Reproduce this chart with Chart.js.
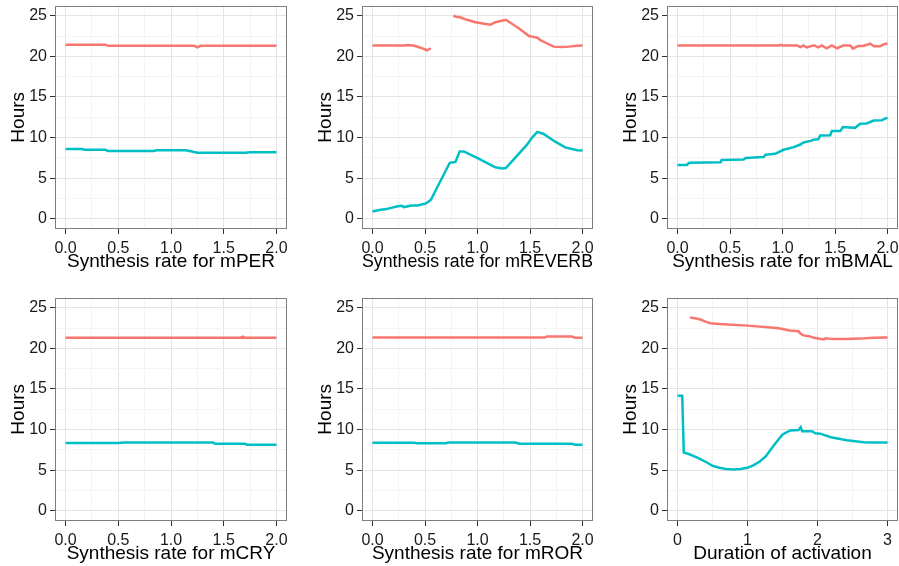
<!DOCTYPE html>
<html>
<head>
<meta charset="utf-8">
<script src="https://cdn.jsdelivr.net/npm/chart.js@4.4.1/dist/chart.umd.min.js"></script>
<style>
  html, body { margin: 0; padding: 0; background: #fff; overflow: hidden; }
  body { width: 899px; height: 566px; position: relative; }
  canvas { position: absolute; }
</style>
</head>
<body>
<canvas id="c1"></canvas>
<canvas id="c2"></canvas>
<canvas id="c3"></canvas>
<canvas id="c4"></canvas>
<canvas id="c5"></canvas>
<canvas id="c6"></canvas>
<script>
// ---- data ----
var yMajor = [0, 5, 10, 15, 20, 25];
var yMinor = [2.5, 7.5, 12.5, 17.5, 22.5];
var rateMajor = [0, 0.5, 1, 1.5, 2];
var rateMinor = [0.25, 0.75, 1.25, 1.75];
var durMajor = [0, 1, 2, 3];
var durMinor = [0.5, 1.5, 2.5];

// mPER
var perRedX = [0, 0.38, 0.40, 1.22, 1.25, 1.28, 2.0];
var perRedY = [21.43, 21.43, 21.3, 21.3, 21.1, 21.3, 21.3];
var perTealX = [0, 0.16, 0.18, 0.38, 0.40, 0.84, 0.86, 1.14, 1.2, 1.25, 1.7, 1.75, 2.0];
var perTealY = [8.6, 8.6, 8.5, 8.5, 8.36, 8.36, 8.44, 8.44, 8.3, 8.15, 8.15, 8.2, 8.2];

// mREVERB
var revRedX = [0, 0.30, 0.33, 0.40, 0.45, 0.52, 0.556, 0.66, 0.77, 0.80, 0.825, 0.90, 0.98, 1.05, 1.125, 1.17, 1.27, 1.39, 1.49, 1.53, 1.57, 1.60, 1.63, 1.725, 1.80, 1.87, 1.95, 2.0];
var revRedY = [21.35, 21.35, 21.4, 21.3, 21.1, 20.75, 21.0, null, 25.0, 24.85, 24.85, 24.5, 24.2, 24.05, 23.9, 24.2, 24.5, 23.5, 22.5, 22.4, 22.3, 22.0, 21.8, 21.2, 21.15, 21.2, 21.3, 21.35];
var revTealX = [0, 0.05, 0.13, 0.24, 0.28, 0.30, 0.37, 0.43, 0.51, 0.556, 0.736, 0.79, 0.83, 0.87, 1.01, 1.17, 1.235, 1.27, 1.47, 1.52, 1.57, 1.63, 1.74, 1.835, 1.95, 2.0];
var revTealY = [0.9, 1.05, 1.2, 1.55, 1.6, 1.45, 1.65, 1.65, 1.9, 2.35, 6.9, 7.0, 8.3, 8.3, 7.4, 6.35, 6.2, 6.25, 9.1, 10.0, 10.7, 10.45, 9.5, 8.8, 8.45, 8.4];

// mBMAL
var bmalRedX = [0, 0.97, 0.98, 1.0, 1.14, 1.17, 1.2, 1.23, 1.3, 1.34, 1.375, 1.42, 1.47, 1.52, 1.58, 1.645, 1.67, 1.72, 1.77, 1.835, 1.87, 1.93, 1.98, 2.0];
var bmalRedY = [21.35, 21.35, 21.43, 21.35, 21.35, 21.15, 21.35, 21.1, 21.35, 21.1, 21.35, 21.0, 21.35, 21.0, 21.35, 21.35, 20.95, 21.27, 21.27, 21.56, 21.25, 21.25, 21.56, 21.56];
var bmalTealX = [0, 0.09, 0.11, 0.41, 0.42, 0.63, 0.65, 0.82, 0.84, 0.93, 1.01, 1.1, 1.17, 1.2, 1.23, 1.27, 1.295, 1.34, 1.36, 1.455, 1.47, 1.55, 1.575, 1.69, 1.74, 1.8, 1.87, 1.945, 2.0];
var bmalTealY = [6.64, 6.64, 6.9, 6.97, 7.25, 7.3, 7.5, 7.6, 7.9, 8.0, 8.5, 8.8, 9.15, 9.4, 9.5, 9.6, 9.75, 9.8, 10.25, 10.3, 10.8, 10.8, 11.3, 11.2, 11.7, 11.75, 12.1, 12.15, 12.45];

// mCRY
var cryRedX = [0, 1.66, 1.68, 1.70, 2.0];
var cryRedY = [21.32, 21.32, 21.45, 21.32, 21.32];
var cryTealX = [0, 0.5, 0.55, 1.4, 1.42, 1.7, 1.72, 2.0];
var cryTealY = [8.35, 8.35, 8.4, 8.4, 8.25, 8.25, 8.15, 8.15];

// mROR
var rorRedX = [0, 1.64, 1.66, 1.9, 1.93, 2.0];
var rorRedY = [21.33, 21.33, 21.45, 21.45, 21.3, 21.3];
var rorTealX = [0, 0.4, 0.42, 0.7, 0.72, 1.36, 1.4, 1.9, 1.93, 2.0];
var rorTealY = [8.38, 8.38, 8.33, 8.33, 8.4, 8.4, 8.25, 8.25, 8.15, 8.15];

// duration of activation
var durRedX = [0.18, 0.25, 0.33, 0.4, 0.47, 0.6, 1.0, 1.42, 1.52, 1.6, 1.73, 1.76, 1.8, 1.88, 1.95, 2.09, 2.12, 2.16, 2.23, 2.4, 2.61, 2.8, 3.0];
var durRedY = [23.8, 23.7, 23.55, 23.3, 23.1, 23.0, 22.8, 22.5, 22.35, 22.2, 22.1, 21.8, 21.6, 21.5, 21.3, 21.1, 21.25, 21.2, 21.15, 21.15, 21.2, 21.3, 21.35];
var durTealX = [0, 0.067, 0.09, 0.16, 0.3, 0.42, 0.5, 0.6, 0.69, 0.8, 0.9, 1.0, 1.09, 1.18, 1.26, 1.38, 1.5, 1.61, 1.73, 1.76, 1.78, 1.92, 1.97, 2.04, 2.19, 2.42, 2.66, 2.8, 3.0];
var durTealY = [14.16, 14.16, 7.18, 7.0, 6.5, 5.95, 5.55, 5.3, 5.14, 5.1, 5.15, 5.3, 5.63, 6.1, 6.7, 8.1, 9.4, 9.9, 9.95, 10.3, 9.8, 9.8, 9.55, 9.5, 9.06, 8.7, 8.45, 8.4, 8.4];

var RED = '#F8766D';
var TEAL = '#00BFC4';
var FONT = '"Liberation Sans", Arial, Helvetica, sans-serif';

function pts(xs, ys) {
    return xs.map(function (x, i) { return { x: x, y: ys[i] }; });
}

function isMajor(v, majors) {
    return majors.some(function (m) { return Math.abs(m - v) < 1e-9; });
}

// panel border drawn on top, like ggplot's theme_bw
var borderPlugin = {
    id: 'panelBorder',
    afterDraw: function (chart) {
        var a = chart.chartArea, ctx = chart.ctx;
        ctx.save();
        ctx.strokeStyle = '#7f7f7f';
        ctx.lineWidth = 1;
        ctx.strokeRect(Math.round(a.left) + 0.5, Math.round(a.top) + 0.5, Math.round(a.right - a.left) - 1, Math.round(a.bottom - a.top) - 1);
        ctx.restore();
    }
};

function gridFor(majors) {
    return {
        color: function (c) { return c.tick && isMajor(c.tick.value, majors) ? '#E4E4E4' : '#F4F4F4'; },
        lineWidth: 1,
        tickLength: 5,
        tickWidth: 1,
        tickColor: function (c) { return c.tick && isMajor(c.tick.value, majors) ? '#333333' : 'rgba(0,0,0,0)'; }
    };
}

function makePanel(id, area, xMax, xMajor, xMinor, xDigits, xTitle, red, teal) {
    var canvas = document.getElementById(id);
    var w = 55 + (area.r - area.l) + 14;
    var h = 12 + (area.b - area.t) + 45;
    canvas.width = w;
    canvas.height = h;
    canvas.style.left = (area.l - 55) + 'px';
    canvas.style.top = (area.t - 12) + 'px';
    canvas.style.width = w + 'px';
    canvas.style.height = h + 'px';

    var pad = xMax * 0.05;
    new Chart(canvas, {
        type: 'line',
        data: {
            datasets: [{
                data: red,
                borderColor: RED,
                borderWidth: 2.5,
                pointRadius: 0,
                spanGaps: false,
                tension: 0
            }, {
                data: teal,
                borderColor: TEAL,
                borderWidth: 2.5,
                pointRadius: 0,
                tension: 0
            }]
        },
        options: {
            responsive: false,
            animation: false,
            events: [],
            layout: { padding: { top: 12, right: 14, left: 0, bottom: 0 } },
            scales: {
                x: {
                    type: 'linear',
                    min: -pad,
                    max: xMax + pad,
                    border: { display: false },
                    grid: gridFor(xMajor),
                    afterBuildTicks: function (axis) {
                        axis.ticks = xMajor.concat(xMinor).sort(function (a, b) { return a - b; })
                            .map(function (v) { return { value: v }; });
                    },
                    afterFit: function (axis) { axis.height = 45; },
                    ticks: {
                        autoSkip: false,
                        maxRotation: 0,
                        padding: 5,
                        color: '#1a1a1a',
                        font: { family: FONT, size: 16 },
                        callback: function (v) { return isMajor(v, xMajor) ? v.toFixed(xDigits) : ''; }
                    },
                    title: {
                        display: true,
                        text: xTitle,
                        color: '#000',
                        font: { family: FONT, size: 19 },
                        padding: { top: 0, bottom: 1 }
                    }
                },
                y: {
                    type: 'linear',
                    min: -1.25,
                    max: 26.25,
                    border: { display: false },
                    grid: gridFor(yMajor),
                    afterBuildTicks: function (axis) {
                        axis.ticks = yMajor.concat(yMinor).sort(function (a, b) { return a - b; })
                            .map(function (v) { return { value: v }; });
                    },
                    afterFit: function (axis) { axis.width = 55; },
                    ticks: {
                        autoSkip: false,
                        padding: 3,
                        color: '#1a1a1a',
                        font: { family: FONT, size: 16 },
                        callback: function (v) { return isMajor(v, yMajor) ? String(v) : ''; }
                    },
                    title: {
                        display: true,
                        text: 'Hours',
                        color: '#000',
                        font: { family: FONT, size: 19 },
                        padding: { top: 7, bottom: 0 }
                    }
                }
            },
            plugins: {
                legend: { display: false },
                tooltip: { enabled: false }
            }
        },
        plugins: [borderPlugin]
    });
}

var row1 = { t: 5, b: 229 }, row2 = { t: 297, b: 521 };
var col1 = { l: 55, r: 287 }, col2 = { l: 362, r: 593 }, col3 = { l: 667, r: 898 };
function cell(c, r) { return { l: c.l, r: c.r, t: r.t, b: r.b }; }

makePanel('c1', cell(col1, row1), 2, rateMajor, rateMinor, 1, 'Synthesis rate for mPER', pts(perRedX, perRedY), pts(perTealX, perTealY));
makePanel('c2', cell(col2, row1), 2, rateMajor, rateMinor, 1, 'Synthesis rate for mREVERB', pts(revRedX, revRedY), pts(revTealX, revTealY));
makePanel('c3', cell(col3, row1), 2, rateMajor, rateMinor, 1, 'Synthesis rate for mBMAL', pts(bmalRedX, bmalRedY), pts(bmalTealX, bmalTealY));
makePanel('c4', cell(col1, row2), 2, rateMajor, rateMinor, 1, 'Synthesis rate for mCRY', pts(cryRedX, cryRedY), pts(cryTealX, cryTealY));
makePanel('c5', cell(col2, row2), 2, rateMajor, rateMinor, 1, 'Synthesis rate for mROR', pts(rorRedX, rorRedY), pts(rorTealX, rorTealY));
makePanel('c6', cell(col3, row2), 3, durMajor, durMinor, 0, 'Duration of activation', pts(durRedX, durRedY), pts(durTealX, durTealY));
</script>
</body>
</html>
